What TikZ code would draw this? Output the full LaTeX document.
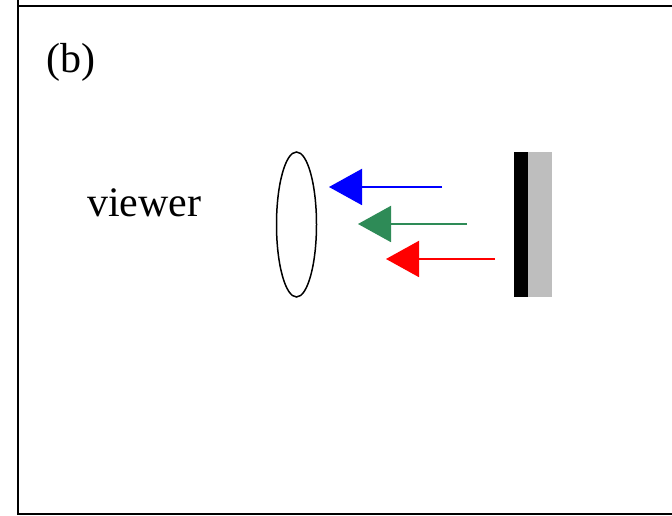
\documentclass[tikz,border=0pt]{standalone}
\usepackage{fontspec}
\setmainfont{Liberation Serif}
\usetikzlibrary{arrows.meta}
\definecolor{rgreen}{RGB}{46,139,87}
\definecolor{rgray}{RGB}{190,190,190}
\begin{document}
\begin{tikzpicture}[x=1pt,y=1pt,
  ray/.style={line width=2pt,-{Triangle[length=33pt,width=36pt]}},
  lbl/.style={font=\fontsize{42}{48}\selectfont,anchor=base west,inner sep=0pt}]
\useasboundingbox (0,0) rectangle (672,516);
\clip (0,0) rectangle (672,516);
\draw[line width=2pt] (17.5,680) -- (17.5,1.5) -- (700,1.5);
\draw[line width=2pt] (17.5,509.5) -- (700,509.5);
\node[lbl] (b) at (46,443) {(b)};
\node[lbl] (viewer) at (87,299) {viewer};
\draw[line width=1.5pt] (296.5,291.5) ellipse [x radius=20, y radius=72.5];
\node[fill=black,draw=none,inner sep=0pt,minimum width=14pt,minimum height=145pt,anchor=south west] (black) at (514,219) {};
\node[fill=rgray,draw=none,inner sep=0pt,minimum width=24pt,minimum height=145pt,anchor=south west] (gray) at (528,219) {};
\coordinate (bs) at (442,329); \coordinate (bt) at (329,329);
\coordinate (gs) at (467,292); \coordinate (gt) at (358,292);
\coordinate (rs) at (495,257); \coordinate (rt) at (386,257);
\draw[ray,blue] (bs) -- (bt);
\draw[ray,rgreen] (gs) -- (gt);
\draw[ray,red] (rs) -- (rt);
\end{tikzpicture}
\end{document}
